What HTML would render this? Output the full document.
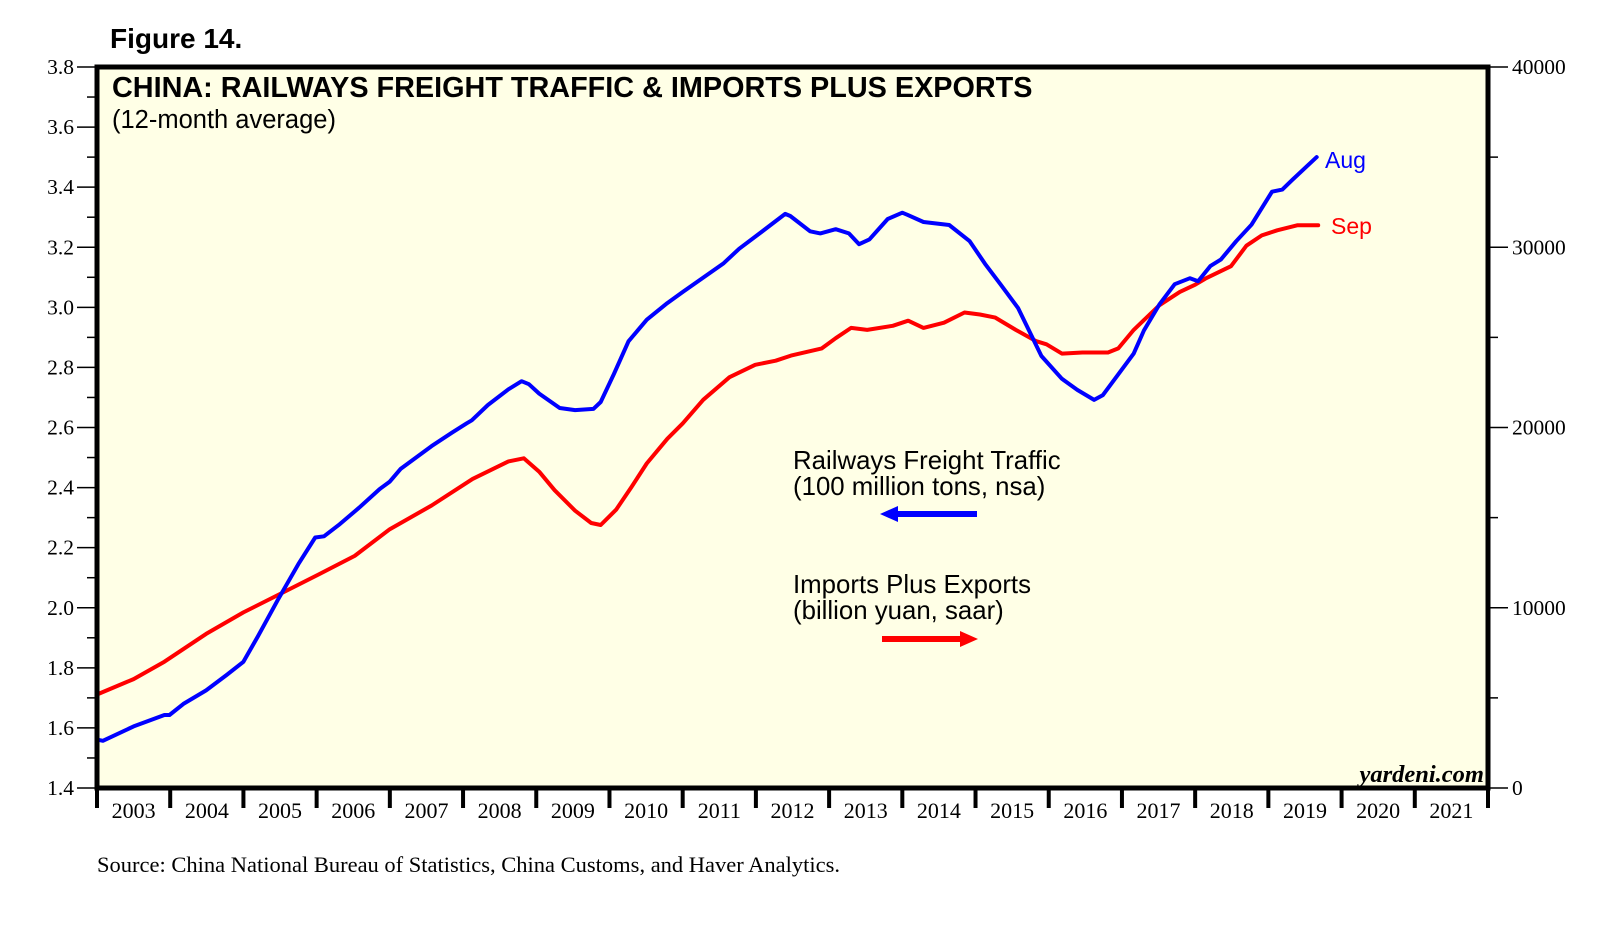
<!DOCTYPE html>
<html><head><meta charset="utf-8"><style>
body{margin:0;background:#fff;}
svg{display:block;}
.ser{font-family:"Liberation Serif",serif;}
.sans{font-family:"Liberation Sans",sans-serif;}
</style></head><body>
<svg id="chart" width="1609" height="930" xmlns="http://www.w3.org/2000/svg">
<rect x="97" y="67" width="1391" height="721" fill="#FFFFE6"/>
<g id="axes"></g>
<g id="series"></g>
<rect x="97" y="67" width="1391" height="721" fill="none" stroke="#000" stroke-width="5"/>
<text x="110" y="48" class="sans" font-size="28" font-weight="bold">Figure 14.</text>
<text x="112" y="97" class="sans" font-size="28.8" font-weight="bold">CHINA: RAILWAYS FREIGHT TRAFFIC &amp; IMPORTS PLUS EXPORTS</text>
<text x="112" y="128" class="sans" font-size="25.5">(12-month average)</text>
<text x="793" y="469" class="sans" font-size="25.8">Railways Freight Traffic</text>
<text x="793" y="495" class="sans" font-size="25.8">(100 million tons, nsa)</text>
<g><line x1="893" y1="514" x2="977" y2="514" stroke="#00f" stroke-width="6"/><polygon points="880,514 898,506 898,522" fill="#00f"/></g>
<text x="793" y="593" class="sans" font-size="25.8">Imports Plus Exports</text>
<text x="793" y="619" class="sans" font-size="25.8">(billion yuan, saar)</text>
<g><line x1="882" y1="639" x2="962" y2="639" stroke="#f00" stroke-width="6"/><polygon points="978,639 960,631 960,647" fill="#f00"/></g>
<text x="1484" y="782" text-anchor="end" class="ser" font-size="24.5" font-weight="bold" font-style="italic">yardeni.com</text>
<text x="97" y="872" class="ser" font-size="22.5">Source: China National Bureau of Statistics, China Customs, and Haver Analytics.</text>
<text x="1325" y="168" class="sans" font-size="23" fill="#00f">Aug</text>
<text x="1331" y="234" class="sans" font-size="23" fill="#f00">Sep</text>
</svg>
<script>
const years=[2003,2004,2005,2006,2007,2008,2009,2010,2011,2012,2013,2014,2015,2016,2017,2018,2019,2020,2021];
const leftTicks=[1.4,1.6,1.8,2.0,2.2,2.4,2.6,2.8,3.0,3.2,3.4,3.6,3.8];
const rightTicks=[0,10000,20000,30000,40000];
const railDates=[2003.0,2003.08,2003.5,2003.92,2003.99,2004.18,2004.49,2004.77,2005.0,2005.2,2005.47,2005.75,2005.98,2006.1,2006.3,2006.58,2006.86,2007.0,2007.15,2007.57,2007.85,2008.05,2008.12,2008.34,2008.62,2008.8,2008.9,2009.04,2009.32,2009.53,2009.78,2009.88,2010.06,2010.26,2010.51,2010.79,2011.0,2011.28,2011.56,2011.77,2012.05,2012.4,2012.47,2012.74,2012.88,2013.09,2013.27,2013.41,2013.55,2013.8,2014.0,2014.07,2014.29,2014.64,2014.92,2015.13,2015.34,2015.58,2015.73,2015.9,2016.18,2016.39,2016.62,2016.74,2016.95,2017.16,2017.3,2017.51,2017.72,2017.93,2018.04,2018.21,2018.35,2018.56,2018.77,2019.05,2019.19,2019.33,2019.66];
const railValues=[1.561,1.557,1.605,1.643,1.643,1.68,1.725,1.776,1.82,1.906,2.026,2.145,2.234,2.238,2.275,2.333,2.395,2.42,2.463,2.538,2.583,2.614,2.624,2.675,2.727,2.754,2.744,2.713,2.665,2.658,2.662,2.685,2.778,2.887,2.959,3.014,3.051,3.099,3.147,3.195,3.246,3.311,3.304,3.253,3.246,3.26,3.246,3.21,3.226,3.294,3.315,3.308,3.284,3.274,3.22,3.145,3.077,2.998,2.923,2.838,2.762,2.725,2.692,2.708,2.777,2.846,2.923,3.009,3.077,3.097,3.087,3.138,3.159,3.22,3.275,3.385,3.392,3.425,3.5];
const tradeDates=[2003.0,2003.5,2003.92,2004.49,2005.0,2005.53,2006.03,2006.52,2007.0,2007.57,2008.13,2008.62,2008.83,2009.04,2009.25,2009.53,2009.75,2009.88,2010.09,2010.3,2010.51,2010.79,2011.0,2011.28,2011.64,2011.99,2012.27,2012.48,2012.9,2013.09,2013.3,2013.52,2013.87,2014.08,2014.29,2014.57,2014.85,2015.06,2015.27,2015.55,2015.83,2015.97,2016.18,2016.46,2016.81,2016.95,2017.16,2017.51,2017.79,2018.0,2018.14,2018.49,2018.7,2018.91,2019.12,2019.4,2019.68];
const tradeValues=[5185,6040,7009,8547,9744,10826,11852,12878,14359,15670,17151,18120,18290,17550,16524,15385,14700,14590,15442,16695,18006,19373,20228,21538,22792,23476,23704,23989,24387,24957,25527,25413,25641,25926,25527,25812,26382,26268,26097,25413,24786,24615,24102,24159,24159,24387,25413,26781,27521,27920,28262,28946,30085,30655,30940,31225,31225];

const X0=97,X1=1488,Y0=67,Y1=788,NS="http://www.w3.org/2000/svg";
const xS=d=>X0+(d-2003)/19*(X1-X0);
const yL=v=>Y1-(v-1.4)/2.4*(Y1-Y0);
const yR=v=>Y1-v/40000*(Y1-Y0);
function mk(tag,attrs,parent){const e=document.createElementNS(NS,tag);for(const k in attrs)e.setAttribute(k,attrs[k]);parent.appendChild(e);return e;}
const ax=document.getElementById('axes'),sg=document.getElementById('series');
leftTicks.forEach(v=>{
 const t=mk('line',{x1:X0-20,x2:X0,y1:yL(v),y2:yL(v),stroke:'#000','stroke-width':1.5},ax);
 
 
 const l=mk('text',{x:74,y:yL(v)+7,'text-anchor':'end','font-size':21.5,class:'ser'},ax);l.textContent=v.toFixed(1);
 
 
 if(v<3.8){const m=mk('line',{x1:X0-10,x2:X0,y1:yL(v+0.1),y2:yL(v+0.1),stroke:'#000','stroke-width':1.5},ax);
 
 }
});
rightTicks.forEach(v=>{
 const t=mk('line',{x1:X1,x2:X1+20,y1:yR(v),y2:yR(v),stroke:'#000','stroke-width':1.5},ax);
 
 
 const l=mk('text',{x:1512,y:yR(v)+7,'font-size':21.5,class:'ser'},ax);l.textContent=v;
 
 
 if(v<40000){const m=mk('line',{x1:X1,x2:X1+10,y1:yR(v+5000),y2:yR(v+5000),stroke:'#000','stroke-width':1.5},ax);
 
 }
});
years.forEach((y,i)=>{
 const t=mk('line',{x1:xS(y),x2:xS(y),y1:Y1,y2:Y1+20,stroke:'#000','stroke-width':4},ax);
 
 
 const l=mk('text',{x:xS(y+0.5),y:818,'text-anchor':'middle','font-size':22,class:'ser'},ax);l.textContent=y;
 
 
});
const t2=mk('line',{x1:X1,x2:X1,y1:Y1,y2:Y1+20,stroke:'#000','stroke-width':4},ax);


function line(d,v,ys,col,name){
 const p=mk('polyline',{points:d.map((x,i)=>xS(x).toFixed(1)+','+ys(v[i]).toFixed(1)).join(' '),fill:'none',stroke:col,'stroke-width':4,'stroke-linejoin':'round','stroke-linecap':'round'},sg);
 
 
}
line(tradeDates,tradeValues,yR,'#f00','trade-line');
line(railDates,railValues,yL,'#00f','rail-line');
</script>
</body></html>
